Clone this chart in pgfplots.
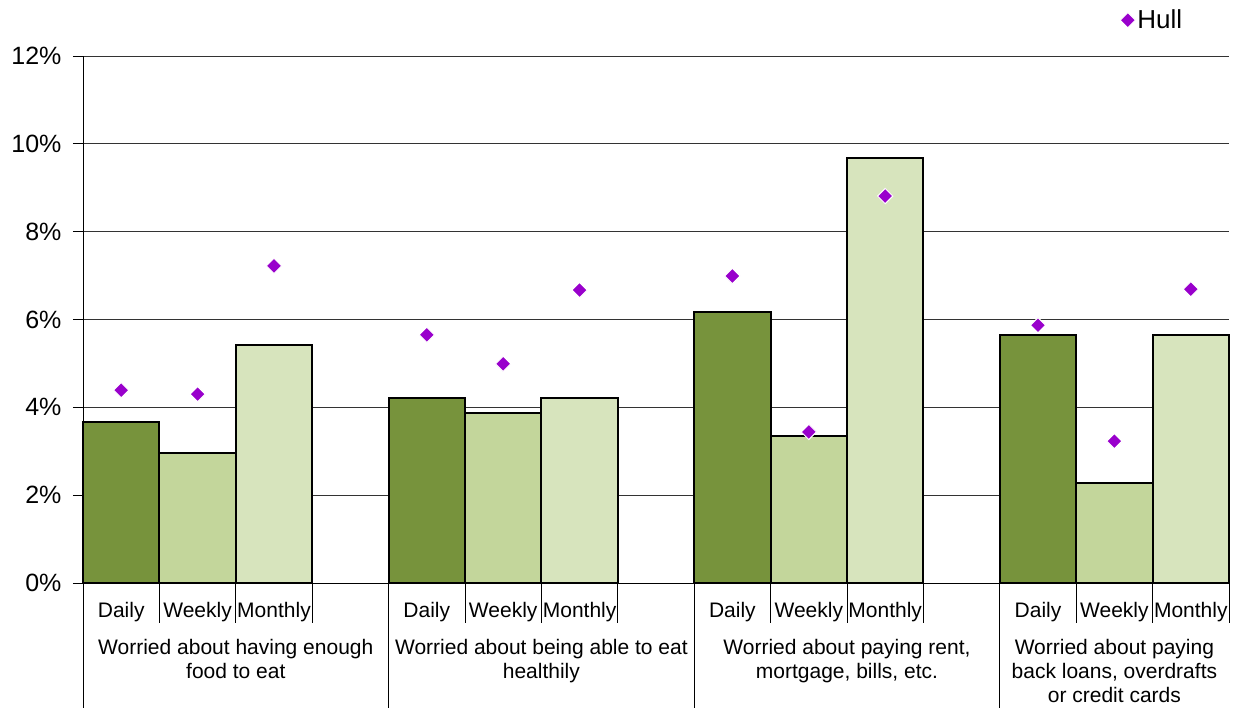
\documentclass[border=0pt]{standalone}
\usepackage{pgfplots}
\pgfplotsset{compat=1.18}
\usepackage{fontspec}
\setmainfont{Liberation Sans}
\definecolor{cDaily}{HTML}{77933C}
\definecolor{cWeekly}{HTML}{C3D69B}
\definecolor{cMonthly}{HTML}{D7E4BD}
\definecolor{hull}{HTML}{9900CC}
\begin{document}
\begin{tikzpicture}
\path[use as bounding box] (-83bp,-125bp) rectangle (1154bp,583bp);
\begin{axis}[
  scale only axis, width=1146bp, height=527bp,
  xmin=0, xmax=15, ymin=0, ymax=12,
  axis x line*=bottom, axis y line*=left,
  axis line style={black, line width=0.9pt},
  ytick={0,2,4,6,8,10,12},
  yticklabels={0\%,2\%,4\%,6\%,8\%,10\%,12\%},
  yticklabel style={font=\fontsize{25bp}{29bp}\selectfont, xshift=-8bp},
  ymajorgrids, grid style={black!80, line width=0.9pt},
  tick align=outside, major tick length=10bp,
  ytick style={black, line width=0.9pt},
  xtick={0.5,1.5,2.5,4.5,5.5,6.5,8.5,9.5,10.5,12.5,13.5,14.5},
  xticklabels={Daily,Weekly,Monthly,Daily,Weekly,Monthly,Daily,Weekly,Monthly,Daily,Weekly,Monthly},
  xtick style={draw=none},
  xticklabel style={font=\fontsize{21bp}{24bp}\selectfont, anchor=base, yshift=-24bp},
  clip=false,
  legend style={draw=none, fill=none, at={(0.933,1.068)}, anchor=center,
    font=\fontsize{26bp}{30bp}\selectfont},
  legend image code/.code={\draw[mark repeat=2,mark phase=2] plot coordinates {(0cm,0cm) (0.2cm,0cm) (0.4cm,0cm)};},
]
\addplot[ybar, bar width=1, bar shift=0pt, fill=cDaily, draw=black, line width=2bp, forget plot]
  coordinates {(0.5,3.67) (4.5,4.21) (8.5,6.17) (12.5,5.65)};
\addplot[ybar, bar width=1, bar shift=0pt, fill=cWeekly, draw=black, line width=2bp, forget plot]
  coordinates {(1.5,2.96) (5.5,3.87) (9.5,3.35) (13.5,2.28)};
\addplot[ybar, bar width=1, bar shift=0pt, fill=cMonthly, draw=black, line width=2bp, forget plot]
  coordinates {(2.5,5.42) (6.5,4.21) (10.5,9.68) (14.5,5.65)};
\addplot[only marks, mark=square*, mark size=5.4bp,
  mark options={rotate=45, fill=hull, draw=white, line width=1bp}]
  coordinates {(0.5,4.39) (1.5,4.30) (2.5,7.22)
               (4.5,5.65) (5.5,4.99) (6.5,6.67)
               (8.5,6.99) (9.5,3.44) (10.5,8.81)
               (12.5,5.87) (13.5,3.23) (14.5,6.69)};
\addlegendentry{Hull}
\pgfplotsinvokeforeach{0,4,8,12}{\draw[black, line width=0.9pt] (axis cs:#1,0) -- ++(0,-125bp);}
\pgfplotsinvokeforeach{1,2,3,5,6,7,9,10,11,13,14,15}{\draw[black, line width=0.9pt] (axis cs:#1,0) -- ++(0,-40bp);}
\begin{scope}[every node/.style={anchor=north, inner sep=0pt, align=center, font=\fontsize{21bp}{24bp}\selectfont}]
\node at ([yshift=-56.5bp]axis cs:2,0) {Worried about having enough\\food to eat};
\node at ([yshift=-56.5bp]axis cs:6,0) {Worried about being able to eat\\healthily};
\node at ([yshift=-56.5bp]axis cs:10,0) {Worried about paying rent,\\mortgage, bills, etc.};
\node at ([yshift=-56.5bp]axis cs:13.5,0) {Worried about paying\\back loans, overdrafts\\or credit cards};
\end{scope}
\end{axis}
\end{tikzpicture}
\end{document}
